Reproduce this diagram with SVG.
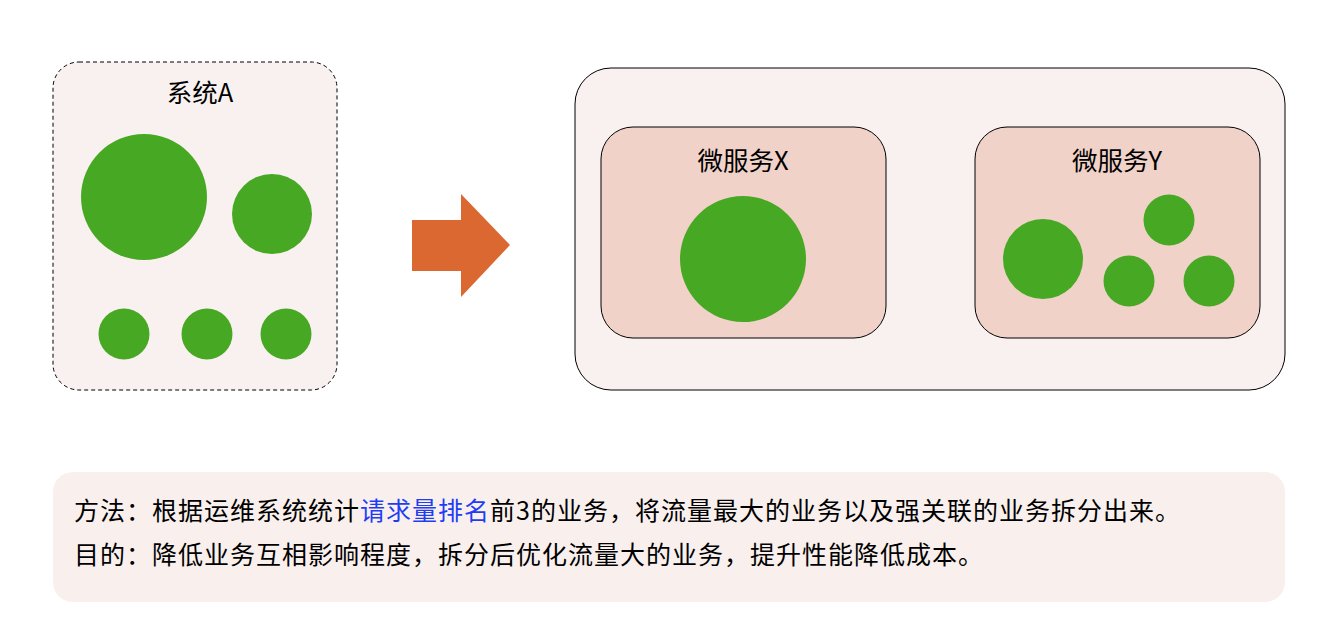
<svg xmlns="http://www.w3.org/2000/svg" width="1339" height="620" viewBox="0 0 1339 620">
<style>
.t{font-family:"Noto Sans CJK SC","Liberation Sans",sans-serif;fill:#000}
.title{font-size:25.5px;text-anchor:middle}
.body{font-size:25px;letter-spacing:1px}
.dot{fill:#47A823}
.panel{fill:#F9F1EF}
.ms{fill:#F0D2C8;stroke:#000;stroke-width:1}
.blue{fill:#1F3DF5}
</style>
<rect width="1339" height="620" fill="#fff"/>
<g id="systemA">
<rect x="53" y="62" width="284" height="328" rx="26" class="panel" stroke="#000" stroke-width="1" stroke-dasharray="4 3"/>
<text x="200" y="102" class="t title">系统A</text>
<circle cx="144" cy="197" r="63" class="dot"/>
<circle cx="272" cy="214" r="40" class="dot"/>
<circle cx="124" cy="334" r="25.5" class="dot"/>
<circle cx="207" cy="334" r="25.5" class="dot"/>
<circle cx="286" cy="334" r="25.5" class="dot"/>
</g>
<g id="connectors">
<polygon points="412,220 461,220 461,194 510,245 461,297 461,271 412,271" fill="#DB6830"/>
</g>
<g id="outer">
<rect x="575" y="68" width="710" height="322" rx="36" class="panel" stroke="#000" stroke-width="1"/>
</g>
<g id="msX">
<rect x="601" y="127" width="285" height="211" rx="32" class="ms"/>
<text x="743" y="170" class="t title">微服务X</text>
<circle cx="743" cy="259" r="63" class="dot"/>
</g>
<g id="msY">
<rect x="975" y="127" width="285" height="211" rx="32" class="ms"/>
<text x="1117" y="170" class="t title">微服务Y</text>
<circle cx="1043" cy="259" r="40" class="dot"/>
<circle cx="1169" cy="220" r="25.5" class="dot"/>
<circle cx="1129" cy="281" r="25.5" class="dot"/>
<circle cx="1209" cy="281" r="25.5" class="dot"/>
</g>
<g id="note">
<rect x="53" y="472" width="1232" height="130" rx="20" fill="#F9F0EE"/>
<text x="74" y="520" class="t body">方法：根据运维系统统计<tspan class="blue">请求量排名</tspan>前3的业务，将流量最大的业务以及强关联的业务拆分出来。</text>
<text x="74" y="564" class="t body">目的：降低业务互相影响程度，拆分后优化流量大的业务，提升性能降低成本。</text>
</g>
</svg>
